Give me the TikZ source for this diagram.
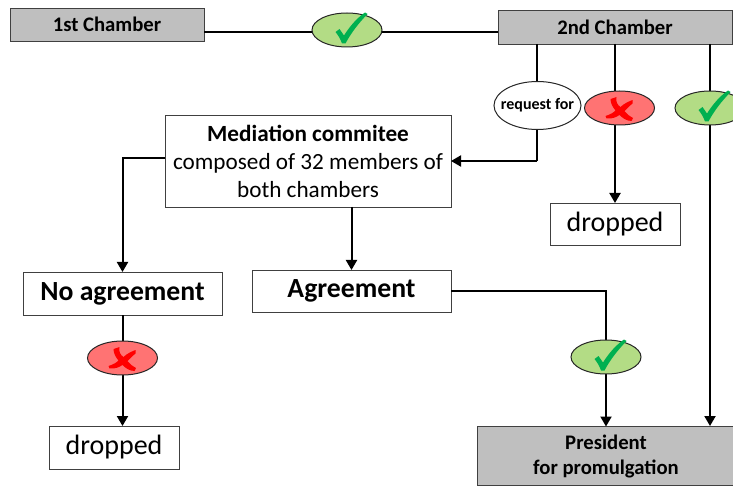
\documentclass[tikz,border=0pt]{standalone}
\usepackage{fontspec}
\setmainfont{Carlito}
\usetikzlibrary{arrows.meta,shapes.geometric}
\definecolor{boxgrey}{HTML}{BFBFBF}
\definecolor{okfill}{HTML}{B3DC85}
\definecolor{nofill}{HTML}{FF7373}
\definecolor{okmark}{HTML}{00B050}
\tikzset{
  x=1pt,y=-1pt,
  every node/.style={inner sep=0pt,outer sep=0pt,align=center},
  box/.style={draw=black!75,line width=0.9pt,fill=white,text=black},
  greybox/.style={box,fill=boxgrey,font=\bfseries\fontsize{20.7}{25}\selectfont},
  oval/.style={ellipse,draw=black!85,line width=1pt,minimum width=70pt,minimum height=34pt},
  okoval/.style={oval,fill=okfill},
  nooval/.style={oval,fill=nofill},
  link/.style={draw=black,line width=2pt},
  arrow/.style={link,-{Triangle[width=11pt,length=10pt]}},
  tick/.pic={\fill[okmark] (-11.5,2) -- (-7.5,-1) -- (-3,5.5) .. controls (3,-4) and (10,-12) .. (18,-17.5) -- (20.5,-16) .. controls (11,-6) and (4,3) .. (-1.5,13.5) -- (-5,13.5) .. controls (-6.5,9) and (-9,5) .. (-11.5,2) -- cycle;},
  cross/.pic={\fill[red] (-9,-9) -- (-3,-11) .. controls (-4,-6) and (-2,-3) .. (1,-1) .. controls (4,-4) and (8,-6) .. (13,-8) -- (13,-4.5) .. controls (10,-2) and (7,1) .. (5,3) .. controls (7,6) and (10,8) .. (13.5,10) -- (12,13) .. controls (7,13) and (3,10) .. (0,7) .. controls (-3,9) and (-7,11) .. (-13,10.5) -- (-14,8) .. controls (-9,6.5) and (-6,4.5) .. (-4,2.5) .. controls (-7,-1) and (-9,-5) .. (-9,-9) -- cycle;}
}
\begin{document}
\begin{tikzpicture}
\useasboundingbox (0,0) rectangle (733,486);
% boxes
\node[greybox,minimum width=194pt,minimum height=33pt] (first) at (107,24.5) {1st Chamber};
\node[greybox,minimum width=234pt,minimum height=34pt] (second) at (615,27) {2nd Chamber};
\node[box,minimum width=286pt,minimum height=92pt,font=\fontsize{23.2}{28}\selectfont] (med) at (308,161) {{\bfseries Mediation commitee}\\composed of 32 members of\\both chambers};
\node[box,minimum width=130pt,minimum height=42pt,font=\fontsize{28}{32}\selectfont] (dropa) at (615,224) {dropped};
\node[box,minimum width=199pt,minimum height=43pt,font=\bfseries\fontsize{27.7}{32}\selectfont] (noag) at (122.5,293.5) {No agreement};
\node[box,minimum width=199pt,minimum height=42pt,font=\bfseries\fontsize{27.7}{32}\selectfont] (ag) at (351.5,291) {Agreement};
\node[box,minimum width=130pt,minimum height=43pt,font=\fontsize{28}{32}\selectfont] (dropb) at (114,447.5) {dropped};
\node[greybox,minimum width=258pt,minimum height=59pt,font=\bfseries\fontsize{20.7}{25}\selectfont] (pres) at (606,456) {President\\for promulgation};
% connector anchors
\coordinate (reqtop) at (537,44);
\coordinate (bend) at (537,161);
\coordinate (rightt) at (710,44);
\coordinate (rightb) at (710,426);
\coordinate (medl) at (165,158);
\coordinate (medr) at (451,161);
\coordinate (medb) at (351.5,207);
\coordinate (lbend) at (122.5,158);
\coordinate (agr) at (451,291);
\coordinate (agbend) at (606,291);
\coordinate (firstr) at (204,32);
\coordinate (secondl) at (498,32);
% connectors
\draw[link] (firstr) -- (secondl);
\draw[link] (reqtop) -- (bend);
\draw[arrow] (bend) -- (medr);
\draw[arrow] (second.south -| dropa.north) -- (dropa.north);
\draw[arrow] (rightt) -- (rightb);
\draw[arrow] (medl) -- (lbend) -- (noag.north);
\draw[arrow] (medb) -- (ag.north);
\draw[arrow] (noag.south) -- (dropb.north -| noag.south);
\draw[arrow] (agr) -- (agbend) -- (pres.north);
% ovals
\node[okoval] (oka) at (347,30) {};
\node[okoval] (okb) at (710,108) {};
\node[okoval] (okc) at (606,357) {};
\node[nooval] (noa) at (619.5,108) {};
\node[nooval] (nob) at (122.5,358) {};
\node[oval,fill=white,minimum width=87pt,minimum height=48pt,font=\bfseries\fontsize{16}{19}\selectfont] (req) at (537.5,105.5) {\makebox[0pt]{request for}};
% marks
\pic at (oka) {tick};
\pic at (okb) {tick};
\pic at (okc) {tick};
\pic at (noa) {cross};
\pic at (nob) {cross};
\end{tikzpicture}
\end{document}
